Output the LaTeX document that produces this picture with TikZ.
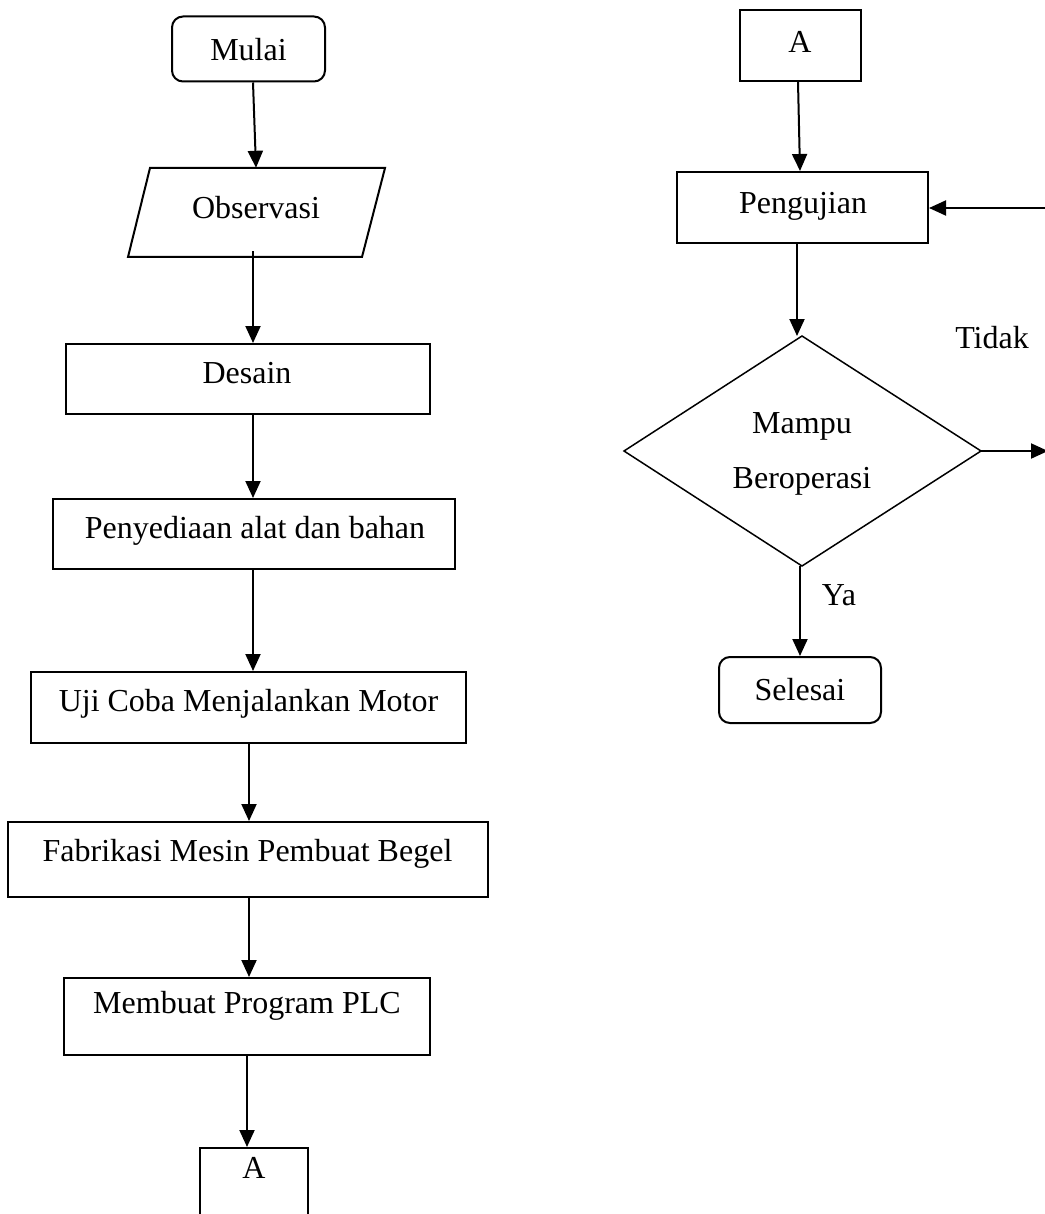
\documentclass[tikz,border=0pt]{standalone}
\usepackage{fontspec}
\setmainfont{Liberation Serif}
\usetikzlibrary{arrows.meta}
\begin{document}
\begin{tikzpicture}[x=1pt,y=-1pt,
  every node/.style={font=\fontsize{32}{38}\selectfont, inner sep=0pt},
  box/.style={draw, line width=2pt, rectangle},
  rbox/.style={draw, line width=2pt, rectangle, rounded corners=11pt},
  lbl/.style={text height=21pt, text depth=0pt},
  arr/.style={line width=2pt, -{Triangle[length=17pt,width=15pt]}}]
\useasboundingbox (0,0) rectangle (1044,1214);
% ---- left column
\node[rbox, minimum width=153pt, minimum height=65pt] (mulai) at (248.5,49) {};
\node[lbl] (mulait) at (248.5,50) {Mulai};
\draw[line width=2pt] (150,168) -- (385,168) -- (362,257) -- (128,257) -- cycle;
\node[minimum width=230pt, minimum height=89pt] (obs) at (256.5,212.5) {};
\node[lbl] (obst) at (256,208) {Observasi};
\node[box, minimum width=364pt, minimum height=70pt] (desain) at (248,379) {};
\node[lbl] (desaint) at (247,373) {Desain};
\node[box, minimum width=402pt, minimum height=70pt] (peny) at (254,534) {};
\node[lbl] (penyt) at (255,528) {Penyediaan alat dan bahan};
\node[box, minimum width=435pt, minimum height=71pt] (uji) at (248.5,707.5) {};
\node[lbl] (ujit) at (248.5,701) {Uji Coba Menjalankan Motor};
\node[box, minimum width=480pt, minimum height=75pt] (fab) at (248,859.5) {};
\node[lbl] (fabt) at (247.5,851) {Fabrikasi Mesin Pembuat Begel};
\node[box, minimum width=366pt, minimum height=77pt] (memb) at (247,1016.5) {};
\node[lbl] (membt) at (247,1003) {Membuat Program PLC};
\node[box, minimum width=108pt, minimum height=100pt, anchor=north] (a1) at (254,1147) {};
\node[lbl] (a1t) at (254,1168) {A};
\draw[arr] (mulai.south -| 253,0) -- (obs.north -| 256,0);
\draw[arr] (obs.south -| 253,0) ++(0,6pt) -- (desain.north -| 253,0);
\draw[arr] (desain.south -| 253,0) -- (peny.north -| 253,0);
\draw[arr] (peny.south -| 253,0) -- (uji.north -| 253,0);
\draw[arr] (uji.south -| 249,0) -- (fab.north -| 249,0);
\draw[arr] (fab.south -| 249,0) -- (memb.north -| 249,0);
\draw[arr] (memb.south -| 247,0) -- (a1.north -| 247,0);
% ---- right column
\node[box, minimum width=121pt, minimum height=71pt] (a2) at (800.5,45.5) {};
\node[lbl] (a2t) at (800,42) {A};
\node[box, minimum width=251pt, minimum height=71pt] (peng) at (802.5,207.5) {};
\node[lbl] (pengt) at (803,203) {Pengujian};
\coordinate (dtop) at (802,336);
\coordinate (dleft) at (624,451);
\coordinate (dright) at (981,451);
\coordinate (dbot) at (802,566);
\draw[line width=1.5pt] (dtop) -- (dright) -- (dbot) -- (dleft) -- cycle;
\node[lbl] (mampu) at (802,423) {Mampu};
\node[lbl] (berop) at (802,478) {Beroperasi};
\node[rbox, minimum width=162pt, minimum height=66pt] (sel) at (800,690) {};
\node[lbl] (selt) at (800,690) {Selesai};
\node[lbl] (tidak) at (992,338) {Tidak};
\node[lbl] (ya) at (839,595) {Ya};
\coordinate (eout) at (1048,451);
\coordinate (ein) at (1048,208);
\draw[arr] (a2.south -| 798,0) -- (peng.north -| 800,0);
\draw[arr] (peng.south -| 797,0) -- (dtop -| 797,0);
\draw[arr] (dbot -| 800,0) -- (sel.north -| 800,0);
\draw[arr] (dright) -- (eout);
\draw[arr] (ein) -- (peng.east |- ein);
\end{tikzpicture}
\end{document}
